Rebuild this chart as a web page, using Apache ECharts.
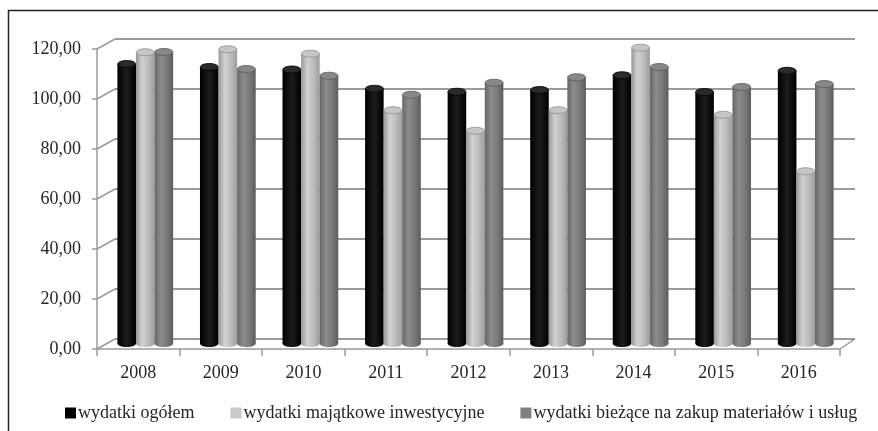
<!DOCTYPE html>
<html>
<head>
<meta charset="utf-8">
<script src="https://cdn.jsdelivr.net/npm/echarts@6/dist/echarts.min.js"></script>
<style>
html,body{margin:0;padding:0;background:#fff;}
#c{width:878px;height:431px;}
</style>
</head>
<body>
<div id="c"></div>
<script>
var categories = ['2008','2009','2010','2011','2012','2013','2014','2015','2016'];
var wydatkiOgolem = [111.8,110.6,109.6,101.9,100.7,101.4,107.3,100.6,109.1];
var wydatkiMajatkowe = [116.5,117.7,115.9,93.3,85.1,93.3,118.3,91.5,68.9];
var wydatkiBiezace = [116.6,109.8,107.1,99.5,104.3,106.5,110.6,102.6,103.8];
var seriesNames = ['wydatki ogółem','wydatki majątkowe inwestycyjne','wydatki bieżące na zakup materiałów i usług'];
var yMin = 0, yMax = 120, yStep = 20;

var FONT = '"Liberation Serif","Times New Roman",serif';
var TXT = '#262626';
var GRID = '#9a9a9a';

// layout: front plane, back wall, mid-depth (bars)
var front = {left:97, right:38, top:49, bottom:82};
var back  = {left:115, right:23, top:39, bottom:92};
var mid   = {left:104, right:31, top:43.5, bottom:87.5};

var styles = [
  {legend:'#000000', body:['#000000','#1c1c1c','#000000'], top:'#2a2a2a', edge:'#000'},
  {legend:'#c8c8c8', body:['#989898','#d2d2d2','#bcbcbc','#9c9c9c'], top:'#c6c6c6', edge:'#8e8e8e'},
  {legend:'#808080', body:['#666666','#8c8c8c','#7a7a7a','#5c5c5c'], top:'#888888', edge:'#5a5a5a'}
];

function grad(stops){
  var cs = stops.map(function(c,i){return {offset:i/(stops.length-1), color:c};});
  return {type:'linear', x:0, y:0, x2:1, y2:0, colorStops:cs, global:false};
}

function makeRender(k){
  var st = styles[k];
  return function(params, api){
    var idx = api.value(0), val = api.value(1);
    var topP = api.coord([idx, val]);
    var baseP = api.coord([idx, 0]);
    var band = api.size([1,0])[0];
    var w = band*0.225;
    var cx = topP[0] + (k-1)*w;
    var ry = 3.5;
    var g = grad(st.body);
    return {type:'group', children:[
      {type:'ellipse', shape:{cx:cx, cy:baseP[1], rx:w/2, ry:ry}, style:{fill:g}},
      {type:'rect', shape:{x:cx-w/2, y:topP[1], width:w, height:baseP[1]-topP[1]}, style:{fill:g}},
      {type:'ellipse', shape:{cx:cx, cy:topP[1], rx:w/2-0.3, ry:ry}, style:{fill:st.top, stroke:st.edge, lineWidth:0.8}}
    ]};
  };
}

function toData(arr){ return arr.map(function(v,i){return [i,v];}); }
var seriesData = [wydatkiOgolem, wydatkiMajatkowe, wydatkiBiezace];

var chart = echarts.init(document.getElementById('c'), null, {renderer:'canvas'});

var option = {
  animation:false,
  backgroundColor:'#ffffff',
  grid:[
    {left:front.left, right:front.right, top:front.top, bottom:front.bottom},
    {left:back.left, right:back.right, top:back.top, bottom:back.bottom},
    {left:mid.left, right:mid.right, top:mid.top, bottom:mid.bottom}
  ],
  xAxis:[
    {type:'category', gridIndex:0, data:categories, boundaryGap:true,
     axisLine:{show:true, lineStyle:{color:GRID, width:1.5}},
     axisTick:{show:true, length:7, alignWithLabel:false, lineStyle:{color:GRID, width:1.5}},
     axisLabel:{color:TXT, fontFamily:FONT, fontSize:18, margin:15},
     splitLine:{show:false}},
    {type:'category', gridIndex:1, data:categories, show:false},
    {type:'category', gridIndex:2, data:categories, show:false}
  ],
  yAxis:[
    {type:'value', gridIndex:0, min:yMin, max:yMax, interval:yStep,
     axisLine:{show:true, lineStyle:{color:GRID, width:1.5}},
     axisTick:{show:true, length:5, lineStyle:{color:GRID, width:1.5}},
     axisLabel:{color:TXT, fontFamily:FONT, fontSize:18, margin:16,
       formatter:function(v){return v.toFixed(2).replace('.',',');}},
     splitLine:{show:false}},
    {type:'value', gridIndex:1, min:yMin, max:yMax, interval:yStep,
     axisLine:{show:false}, axisTick:{show:false}, axisLabel:{show:false},
     splitLine:{show:true, lineStyle:{color:GRID, width:2}}},
    {type:'value', gridIndex:2, min:yMin, max:yMax, interval:yStep, show:false,
     splitLine:{show:false}}
  ],
  legend:{
    left:60, top:399, itemWidth:11, itemHeight:11, itemGap:36,
    icon:'rect',
    textStyle:{color:TXT, fontFamily:FONT, fontSize:18, padding:[0,0,0,-3]},
    data:seriesNames
  },
  series:[0,1,2].map(function(k){
    return {
      type:'custom', name:seriesNames[k], xAxisIndex:2, yAxisIndex:2,
      renderItem:makeRender(k), data:toData(seriesData[k]),
      encode:{x:0, y:1},
      itemStyle:{color:styles[k].legend}
    };
  })
};
chart.setOption(option);

// decorative 3D frame: side-wall connectors and floor edges, plus outer border
var gr = [];
var W = 878, H = 431;
var fx = front.left, bx = back.left;
for (var v = yMin; v <= yMax; v += yStep){
  var yf = chart.convertToPixel({yAxisIndex:0}, v);
  var yb = chart.convertToPixel({yAxisIndex:1}, v);
  gr.push({type:'line', shape:{x1:fx, y1:yf, x2:bx, y2:yb}, style:{stroke:GRID, lineWidth:1.5}, silent:true});
}
var yf0 = chart.convertToPixel({yAxisIndex:0}, 0);
var yb0 = chart.convertToPixel({yAxisIndex:1}, 0);
gr.push({type:'line', shape:{x1:W-front.right, y1:yf0, x2:W-back.right, y2:yb0}, style:{stroke:GRID, lineWidth:1.5}, silent:true});
gr.push({type:'rect', shape:{x:8.5, y:10.5, width:W+20, height:H+20}, style:{fill:'none', stroke:'#222', lineWidth:1.5}, silent:true});
chart.setOption({graphic:gr});
</script>
</body>
</html>
